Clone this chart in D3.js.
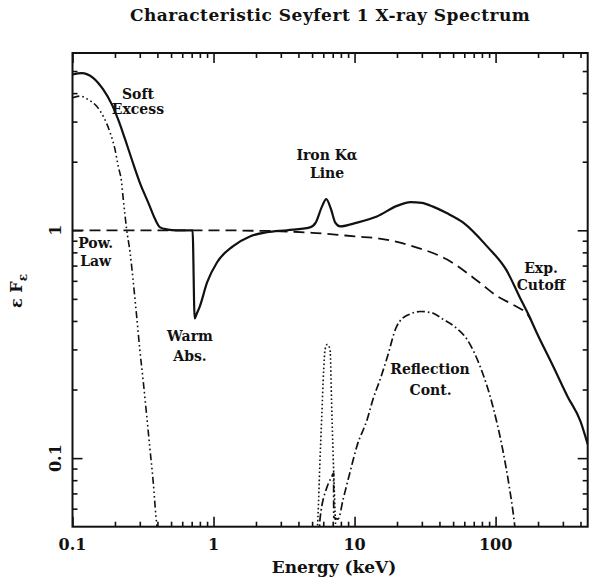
<!DOCTYPE html>
<html>
<head>
<meta charset="utf-8">
<script src="https://cdn.jsdelivr.net/npm/d3@7"></script>
<style>
  body { margin: 0; background: #fff; }
  svg text { font-family: "DejaVu Serif", "Liberation Serif", serif; font-weight: bold; fill: #111; }
  .curve { fill: none; stroke: #111; }
</style>
</head>
<body>
<div id="chart"></div>
<script>
// values (energy in keV, eF_e)
var totalEnergy = [0.1, 0.116, 0.14, 0.165, 0.19, 0.211, 0.236, 0.263, 0.3, 0.345, 0.385, 0.418, 0.465, 0.55, 0.65, 0.71,
  0.735, 0.76, 0.8, 0.9, 1.06, 1.37, 1.81, 2.39, 3.32, 4.83, 5.3, 5.87, 6.3, 6.8, 7.3, 7.9, 10.4, 14.4, 20, 25, 30, 36,
  45, 59, 87, 120, 148, 170, 195, 256, 323, 400, 450];
var totalFlux = [4.83, 4.9, 4.67, 4.15, 3.57, 3.06, 2.51, 2.05, 1.62, 1.32, 1.12, 1.03, 1.01, 1.0, 1.0, 1.0,
  0.41, 0.43, 0.464, 0.59, 0.724, 0.85, 0.94, 0.98, 1.0, 1.03, 1.08, 1.27, 1.37, 1.24, 1.08, 1.04, 1.08, 1.15, 1.28, 1.33, 1.32, 1.27,
  1.19, 1.08, 0.85, 0.665, 0.51, 0.43, 0.357, 0.253, 0.187, 0.145, 0.115];

var powEnergy = [0.1, 0.5, 1, 2, 3, 5, 7, 10, 15, 26, 45, 77, 102, 130, 150, 165, 178];
var powFlux = [1, 1, 1, 0.995, 0.99, 0.975, 0.96, 0.94, 0.92, 0.85, 0.746, 0.59, 0.515, 0.475, 0.452, 0.435, 0.405];

var softEnergy = [0.1, 0.113, 0.129, 0.148, 0.165, 0.185, 0.2, 0.211, 0.223, 0.229, 0.236, 0.242, 0.256, 0.27,
  0.285, 0.3, 0.318, 0.336, 0.354, 0.374, 0.39, 0.4];
var softFlux = [3.82, 3.88, 3.75, 3.51, 3.17, 2.68, 2.27, 1.91, 1.62, 1.37, 1.155, 1.01, 0.8, 0.59,
  0.42, 0.3, 0.215, 0.153, 0.11, 0.078, 0.056, 0.048];

var ironEnergy = [5.4, 5.5, 5.67, 5.85, 6.04, 6.18, 6.4, 6.7, 6.9, 7.14, 7.28, 7.4];
var ironFlux = [0.045, 0.055, 0.093, 0.151, 0.243, 0.3, 0.315, 0.3, 0.16, 0.081, 0.057, 0.045];

var reflEnergy = [5.6, 5.69, 6.4, 6.9, 7.1, 7.12, 7.64, 8.3, 9.3, 10.4, 12.3, 13.5, 15.2, 16.9, 19.9, 21, 25, 29.2,
  35, 42.4, 52, 62.5, 77.4, 95.6, 112, 125, 133, 137, 140];
var reflFlux = [0.045, 0.054, 0.075, 0.083, 0.086, 0.055, 0.054, 0.066, 0.087, 0.113, 0.148, 0.181, 0.222, 0.272, 0.379, 0.4, 0.43, 0.44,
  0.435, 0.407, 0.375, 0.333, 0.254, 0.169, 0.11, 0.075, 0.058, 0.05, 0.045];

var xMajorTicks = [0.1, 1, 10, 100];
var xTickLabels = ["0.1", "1", "10", "100"];
var yMajorTicks = [0.1, 1];
var yTickLabels = ["0.1", "1"];

var noteText = ["Soft", "Excess", "Pow.", "Law", "Warm", "Abs.", "Iron K\u03b1", "Line", "Exp.", "Cutoff", "Reflection", "Cont."];
var noteEnergy = [0.291, 0.291, 0.146, 0.146, 0.681, 0.681, 6.38, 6.38, 210, 210, 34.3, 34.6];
var noteFlux = [3.78, 3.25, 0.84, 0.70, 0.325, 0.266, 2.04, 1.70, 0.652, 0.549, 0.233, 0.19];

var width = 589, height = 583;
var margin = {top: 53, right: 1.3, bottom: 56.3, left: 72.5};

var x = d3.scaleLog().domain([0.1, 450]).range([margin.left, width - margin.right]);
var y = d3.scaleLog().domain([0.05, 6]).range([height - margin.bottom, margin.top]);

var svg = d3.select("#chart").append("svg")
    .attr("width", width)
    .attr("height", height);

svg.append("defs").append("clipPath").attr("id", "plot")
  .append("rect")
    .attr("x", x.range()[0]).attr("y", y.range()[1])
    .attr("width", x.range()[1] - x.range()[0])
    .attr("height", y.range()[0] - y.range()[1]);

// minor ticks 2..9 in each decade
function minors(lo, hi) {
  var out = [];
  for (var p = -2; p <= 3; p++) {
    for (var m = 2; m <= 9; m++) {
      var v = m * Math.pow(10, p);
      if (v > lo * 1.0001 && v < hi * 0.9999) out.push(v);
    }
  }
  return out;
}
var xMinor = minors(0.1, 450);
var yMinor = minors(0.05, 6);

var x0 = x.range()[0], x1 = x.range()[1], y0 = y.range()[0], y1 = y.range()[1];

function tickAxis(gen, vals, size, tx, ty) {
  var g = svg.append("g")
      .attr("transform", "translate(" + tx + "," + ty + ")")
      .call(gen.tickValues(vals).tickSize(size).tickFormat(""));
  g.select(".domain").remove();
  g.selectAll("line").attr("stroke", "#111").attr("stroke-width", 1.6);
  return g;
}

// ticks on all four sides, pointing inward
tickAxis(d3.axisBottom(x), xMajorTicks, -10, 0, y0);
tickAxis(d3.axisBottom(x), xMinor, -5, 0, y0);
tickAxis(d3.axisTop(x), xMajorTicks, -10, 0, y1);
tickAxis(d3.axisTop(x), xMinor, -5, 0, y1);
tickAxis(d3.axisLeft(y), yMajorTicks, -10, x0, 0);
tickAxis(d3.axisLeft(y), yMinor, -5, x0, 0);
tickAxis(d3.axisRight(y), yMajorTicks, -10, x1, 0);
tickAxis(d3.axisRight(y), yMinor, -5, x1, 0);

svg.append("rect")
    .attr("x", x0).attr("y", y1)
    .attr("width", x1 - x0).attr("height", y0 - y1)
    .attr("fill", "none")
    .attr("stroke", "#111")
    .attr("stroke-width", 2);

// tick labels
svg.selectAll(".xlab")
    .data(xMajorTicks)
  .enter().append("text")
    .attr("class", "xlab")
    .attr("x", function(d) { return x(d); })
    .attr("y", y0 + 23.5)
    .attr("text-anchor", "middle")
    .style("font-size", "16px")
    .text(function(d, i) { return xTickLabels[i]; });

svg.selectAll(".ylab")
    .data(yMajorTicks)
  .enter().append("text")
    .attr("class", "ylab")
    .attr("transform", function(d) { return "translate(" + (x0 - 11.5) + "," + y(d) + ") rotate(-90)"; })
    .attr("text-anchor", "middle")
    .style("font-size", "16px")
    .text(function(d, i) { return yTickLabels[i]; });

// curves
var line = d3.line()
    .x(function(d) { return x(d[0]); })
    .y(function(d) { return y(d[1]); })
    .curve(d3.curveMonotoneX);

var plot = svg.append("g").attr("clip-path", "url(#plot)");

function drawCurve(es, fs, width, dash) {
  plot.append("path")
      .datum(d3.zip(es, fs))
      .attr("class", "curve")
      .attr("stroke-width", width)
      .attr("stroke-dasharray", dash)
      .attr("d", line);
}

drawCurve(powEnergy, powFlux, 1.8, "11,6");
drawCurve(softEnergy, softFlux, 1.6, "7,3,1.6,3,1.6,3,1.6,3");
drawCurve(ironEnergy, ironFlux, 1.6, "1.6,2.4");
drawCurve(reflEnergy, reflFlux, 1.7, "8,3,1.6,3");
drawCurve(totalEnergy, totalFlux, 2.2, null);

// annotations
svg.selectAll(".note")
    .data(noteText)
  .enter().append("text")
    .attr("class", "note")
    .attr("x", function(d, i) { return x(noteEnergy[i]); })
    .attr("y", function(d, i) { return y(noteFlux[i]); })
    .attr("text-anchor", "middle")
    .style("font-size", "14px")
    .text(function(d) { return d; });

// title and axis titles
svg.append("text")
    .attr("x", (x0 + x1) / 2)
    .attr("y", 21)
    .attr("text-anchor", "middle")
    .style("font-size", "17px")
    .style("letter-spacing", "0.5px")
    .text("Characteristic Seyfert 1 X-ray Spectrum");

svg.append("text")
    .attr("x", 334)
    .attr("y", 573)
    .attr("text-anchor", "middle")
    .style("font-size", "17px")
    .text("Energy (keV)");

var ylabel = svg.append("text")
    .attr("transform", "translate(22,291) rotate(-90)")
    .attr("text-anchor", "middle")
    .style("font-size", "16px");
ylabel.append("tspan").text("\u03b5 F");
ylabel.append("tspan").attr("dy", 5).style("font-size", "12px").text("\u03b5");
</script>
</body>
</html>
